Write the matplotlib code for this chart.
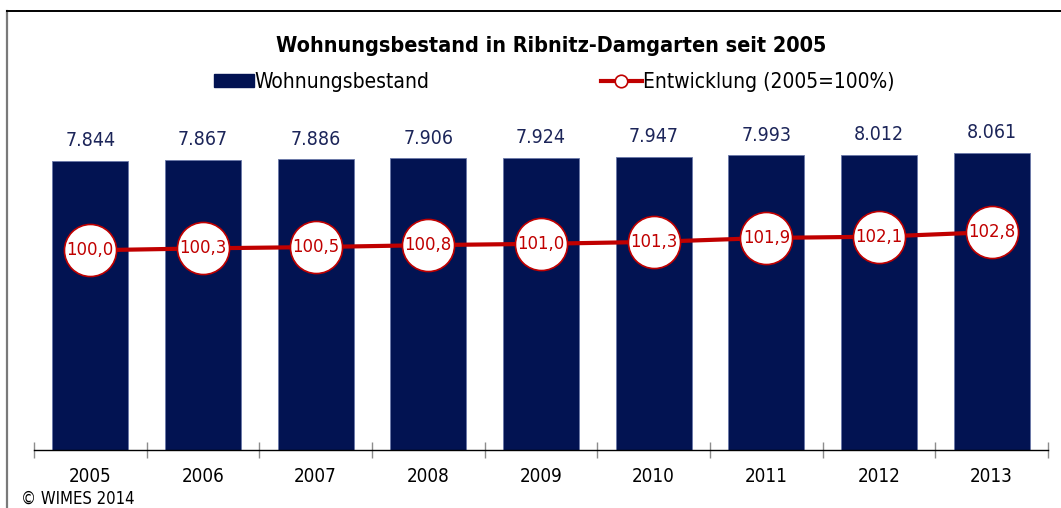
import matplotlib
matplotlib.use("Agg")
import matplotlib.pyplot as plt
from matplotlib.lines import Line2D
from matplotlib.patches import Patch

plt.rcParams['font.family'] = ['DejaVu Sans']
plt.rcParams['font.stretch'] = 'condensed'

# Data
years = ["2005", "2006", "2007", "2008", "2009", "2010", "2011", "2012", "2013"]
bestand = [7844, 7867, 7886, 7906, 7924, 7947, 7993, 8012, 8061]
entwicklung = [100.0, 100.3, 100.5, 100.8, 101.0, 101.3, 101.9, 102.1, 102.8]

NAVY = "#021352"
NAVY_TEXT = "#1c2559"
RED = "#c00000"

W, H = 1061, 508
fig = plt.figure(figsize=(W / 100, H / 100), dpi=100)

# plot area in pixel units
left_px, right_px, bottom_px, top_px = 34, 1048, 450, 81.2
ax = fig.add_axes([left_px / W, (H - bottom_px) / H,
                   (right_px - left_px) / W, (bottom_px - top_px) / H])

x = list(range(len(years)))
bars = ax.bar(x, bestand, width=0.675, color=NAVY, edgecolor="#6a78a8",
              linewidth=0.6, zorder=2)
ax.set_xlim(-0.5, len(years) - 0.5)
ax.set_ylim(0, 10000)

for xi, v in zip(x, bestand):
    label = f"{v:,}".replace(",", ".")
    ax.annotate(label, (xi, v), xytext=(0, 20), textcoords="offset pixels",
                ha="center", va="center", fontsize=14, color=NAVY_TEXT)

# axes styling
for s in ["top", "right", "left"]:
    ax.spines[s].set_visible(False)
ax.spines["bottom"].set_color("black")
ax.spines["bottom"].set_linewidth(1.0)
ax.set_yticks([])
ax.set_xticks(x)
ax.set_xticklabels(years, fontsize=13.5)
ax.tick_params(axis="x", which="major", length=0, pad=12)
ax.set_xticks([i - 0.5 for i in range(len(years) + 1)], minor=True)
ax.tick_params(axis="x", which="minor", direction="inout", length=12,
               color="#8c8c8c", width=1)

# secondary axis for the index line
ax2 = ax.twinx()
ax2.set_ylim(69.3, 126.0)
ax2.plot(x, entwicklung, color=RED, linewidth=3, zorder=3,
         marker="o", markersize=37.5, markerfacecolor="white",
         markeredgecolor=RED, markeredgewidth=1.2)
for xi, v in zip(x, entwicklung):
    ax2.text(xi, v, f"{v:.1f}".replace(".", ","), ha="center", va="center",
             fontsize=13.2, color=RED, zorder=4)
ax2.set_yticks([])
for s in ax2.spines.values():
    s.set_visible(False)

# title
fig.text(551 / W, 1 - 46 / H, "Wohnungsbestand in Ribnitz-Damgarten seit 2005",
         ha="center", va="center", fontsize=15.5, fontweight="bold", color="black")

# legends
fs_leg = 15
h1 = Patch(facecolor=NAVY, edgecolor=NAVY)
leg1 = fig.legend([h1], ["Wohnungsbestand"], loc="center left",
                  bbox_to_anchor=(214 / W, 1 - 82 / H), frameon=False,
                  fontsize=fs_leg, handlelength=1.9, handleheight=0.55,
                  handletextpad=0.05, borderpad=0, borderaxespad=0)
h2 = Line2D([], [], color=RED, linewidth=3, marker="o", markersize=9,
            markerfacecolor="white", markeredgecolor=RED, markeredgewidth=1.2)
leg2 = fig.legend([h2], ["Entwicklung (2005=100%)"], loc="center left",
                  bbox_to_anchor=(601 / W, 1 - 82 / H), frameon=False,
                  fontsize=fs_leg, handlelength=1.95,
                  handletextpad=0.05, borderpad=0, borderaxespad=0)

# copyright note
fig.text(21 / W, 1 - 499 / H, "© WIMES 2014", ha="left", va="center",
         fontsize=12, color="black")

# outer frame (top and left edges)
fig.add_artist(Line2D([7 / W, 7 / W], [0, 1 - 11 / H], transform=fig.transFigure,
                      color="#7a7a7a", linewidth=1.6))
fig.add_artist(Line2D([7 / W, 1], [1 - 11 / H, 1 - 11 / H], transform=fig.transFigure,
                      color="black", linewidth=1.4))

fig.savefig("out.png", dpi=100, facecolor="white")
